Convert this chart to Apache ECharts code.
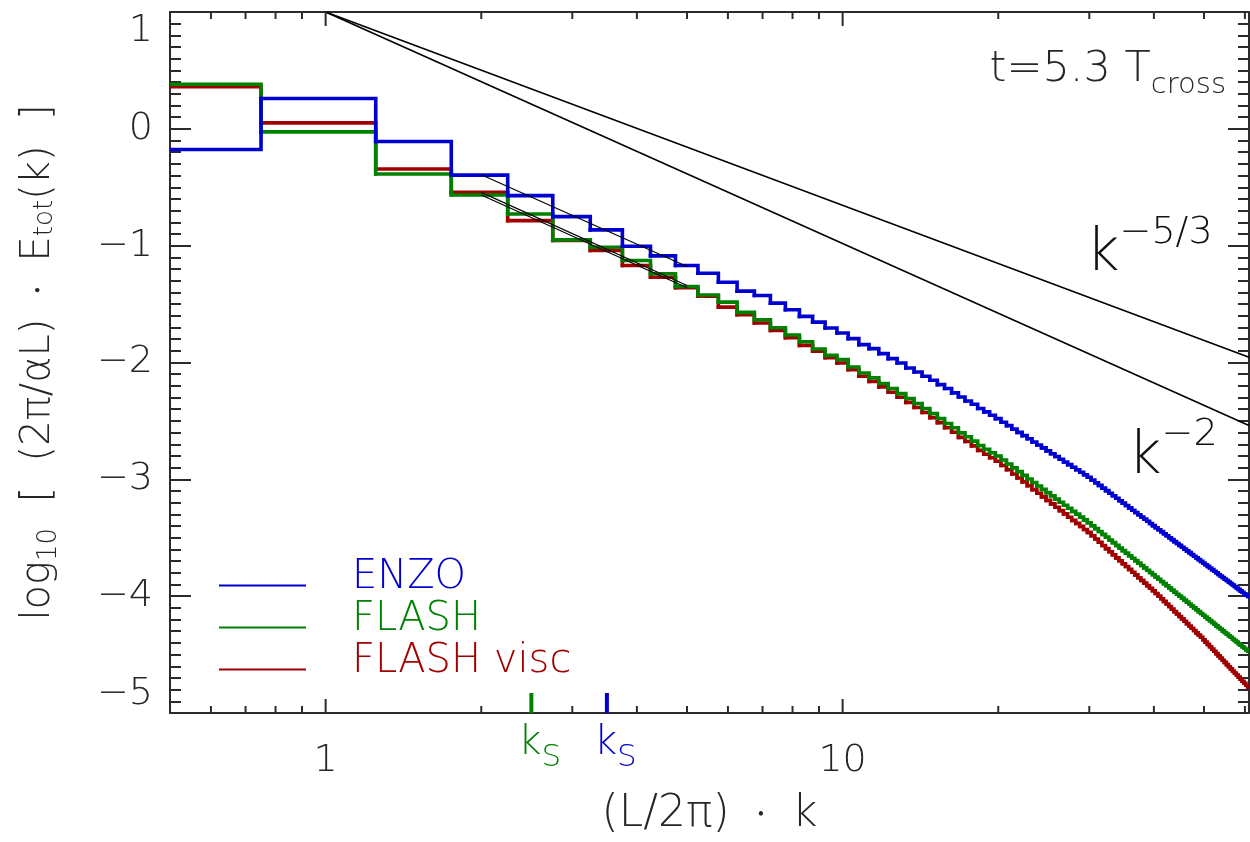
<!DOCTYPE html>
<html><head><meta charset="utf-8">
<script src="https://cdn.jsdelivr.net/npm/echarts@6.0.0/dist/echarts.min.js"></script>
<style>html,body{margin:0;padding:0;background:#fff}#c{width:1250px;height:842px}</style>
</head><body><div id="c"></div>
<script>
// ---- data ----
const kBins = [
  0.5, 1, 1.5, 2, 2.5, 3, 3.5, 4, 4.5, 5,
  5.5, 6, 6.5, 7, 7.5, 8, 8.5, 9, 9.5, 10,
  10.5, 11, 11.5, 12, 12.5, 13, 13.5, 14, 14.5, 15,
  15.5, 16, 16.5, 17, 17.5, 18, 18.5, 19, 19.5, 20,
  20.5, 21, 21.5, 22, 22.5, 23, 23.5, 24, 24.5, 25,
  25.5, 26, 26.5, 27, 27.5, 28, 28.5, 29, 29.5, 30,
  30.5, 31, 31.5, 32, 32.5, 33, 33.5, 34, 34.5, 35,
  35.5, 36, 36.5, 37, 37.5, 38, 38.5, 39, 39.5, 40,
  40.5, 41, 41.5, 42, 42.5, 43, 43.5, 44, 44.5, 45,
  45.5, 46, 46.5, 47, 47.5, 48, 48.5, 49, 49.5, 50,
  50.5, 51, 51.5, 52, 52.5, 53, 53.5, 54, 54.5, 55,
  55.5, 56, 56.5, 57, 57.5, 58, 58.5, 59, 59.5, 60,
  60.5, 61
];
const enzo = [
  -0.177, 0.259, -0.108, -0.396, -0.572, -0.751, -0.865, -1.005, -1.087, -1.170,
  -1.236, -1.313, -1.389, -1.426, -1.492, -1.548, -1.605, -1.654, -1.705, -1.748,
  -1.796, -1.847, -1.881, -1.924, -1.967, -2.004, -2.047, -2.081, -2.118, -2.152,
  -2.189, -2.223, -2.260, -2.295, -2.329, -2.357, -2.394, -2.423, -2.451, -2.480,
  -2.511, -2.540, -2.570, -2.598, -2.626, -2.653, -2.680, -2.706, -2.731, -2.756,
  -2.781, -2.805, -2.828, -2.852, -2.874, -2.897, -2.918, -2.940, -2.961, -2.982,
  -3.006, -3.029, -3.052, -3.075, -3.097, -3.119, -3.141, -3.162, -3.183, -3.204,
  -3.224, -3.244, -3.264, -3.284, -3.303, -3.322, -3.341, -3.359, -3.378, -3.396,
  -3.414, -3.431, -3.448, -3.466, -3.483, -3.500, -3.516, -3.533, -3.549, -3.565,
  -3.581, -3.597, -3.612, -3.627, -3.643, -3.658, -3.672, -3.687, -3.702, -3.717,
  -3.731, -3.745, -3.759, -3.773, -3.787, -3.800, -3.814, -3.827, -3.840, -3.854,
  -3.866, -3.879, -3.892, -3.905, -3.917, -3.930, -3.942, -3.955, -3.966, -3.979,
  -3.991, -4.002
];
const flash = [
  0.382, -0.026, -0.387, -0.566, -0.729, -0.950, -1.014, -1.127, -1.241, -1.349,
  -1.422, -1.483, -1.571, -1.634, -1.702, -1.765, -1.822, -1.885, -1.939, -1.975,
  -2.038, -2.090, -2.132, -2.180, -2.223, -2.266, -2.308, -2.351, -2.394, -2.437,
  -2.479, -2.522, -2.559, -2.602, -2.636, -2.673, -2.710, -2.742, -2.772, -2.800,
  -2.835, -2.869, -2.902, -2.934, -2.966, -2.997, -3.027, -3.057, -3.086, -3.114,
  -3.142, -3.169, -3.196, -3.222, -3.248, -3.274, -3.298, -3.323, -3.347, -3.371,
  -3.397, -3.422, -3.447, -3.471, -3.495, -3.519, -3.542, -3.565, -3.588, -3.610,
  -3.632, -3.654, -3.675, -3.696, -3.717, -3.738, -3.758, -3.778, -3.798, -3.817,
  -3.837, -3.855, -3.874, -3.893, -3.911, -3.929, -3.947, -3.965, -3.983, -4.000,
  -4.017, -4.034, -4.051, -4.067, -4.084, -4.100, -4.116, -4.132, -4.148, -4.163,
  -4.179, -4.194, -4.209, -4.224, -4.239, -4.254, -4.268, -4.282, -4.297, -4.311,
  -4.325, -4.339, -4.352, -4.366, -4.380, -4.393, -4.407, -4.420, -4.433, -4.446,
  -4.459, -4.471
];
const flashVisc = [
  0.361, 0.051, -0.344, -0.544, -0.786, -0.955, -1.042, -1.170, -1.270, -1.360,
  -1.432, -1.526, -1.591, -1.662, -1.725, -1.787, -1.853, -1.904, -1.958, -2.004,
  -2.061, -2.118, -2.163, -2.209, -2.254, -2.298, -2.341, -2.385, -2.428, -2.472,
  -2.515, -2.559, -2.597, -2.641, -2.676, -2.714, -2.752, -2.785, -2.815, -2.845,
  -2.882, -2.918, -2.954, -2.988, -3.022, -3.055, -3.088, -3.119, -3.150, -3.180,
  -3.210, -3.239, -3.268, -3.296, -3.324, -3.351, -3.377, -3.403, -3.429, -3.454,
  -3.483, -3.511, -3.539, -3.566, -3.593, -3.620, -3.646, -3.672, -3.697, -3.722,
  -3.746, -3.771, -3.795, -3.818, -3.842, -3.865, -3.888, -3.910, -3.932, -3.954,
  -3.977, -4.000, -4.022, -4.045, -4.067, -4.089, -4.111, -4.132, -4.153, -4.174,
  -4.194, -4.215, -4.235, -4.255, -4.275, -4.294, -4.314, -4.333, -4.352, -4.373,
  -4.393, -4.413, -4.433, -4.453, -4.472, -4.492, -4.511, -4.530, -4.548, -4.567,
  -4.586, -4.604, -4.622, -4.640, -4.658, -4.675, -4.693, -4.711, -4.728, -4.745,
  -4.762, -4.778
];
// thin fitted lines over the inertial range
const fitK = [2, 5];
const fitEnzo = [-0.393, -1.178];
const fitFlash = [-0.566, -1.360];
const fitVisc = [-0.544, -1.341];
// reference power laws (end points)
const refK = [1, 61.1];
const refMinus53 = [1, -1.955];
const refMinus2 = [1, -2.54];
// sonic wavenumbers
const ksValues = [2.5, 3.5];
// axis ticks
const xMajorTicks = [1, 10];
const xMinorTicks = [0.6, 0.7, 0.8, 0.9, 2, 3, 4, 5, 6, 7, 8, 9, 20, 30, 40, 50, 60];
const seriesNames = ['ENZO', 'FLASH', 'FLASH visc'];

// ---- styling ----
const FONT = 'DejaVu Sans';
const FW = 200;
const TXT = '#262626';
const AXIS = '#2b2b2b';
const BLUE = '#0000d0', GREEN = '#008000', RED = '#a00000';
const ksColors = [GREEN, BLUE];
const X_MIN = 0.5, X_MAX = 61.1, Y_MIN = -5, Y_MAX = 1;
const STEP_WIDTH = 3.6;

// one record per bin: [left edge, value, right edge, next bin's value]
function stepRecords(k, v) {
  const out = [];
  for (let i = 0; i < k.length; i++) {
    const left = i === 0 ? k[0] - (k[1] - k[0]) / 2 : (k[i - 1] + k[i]) / 2;
    const right = i === k.length - 1 ? k[i] + (k[i] - k[i - 1]) / 2 : (k[i] + k[i + 1]) / 2;
    const next = i === k.length - 1 ? v[i] : v[i + 1];
    out.push([left, v[i], right, next]);
  }
  return out;
}
const pairs = (xs, ys) => xs.map((x, i) => [x, ys[i]]);

function stepSeries(name, vals, color, z) {
  return {
    type: 'custom', name, data: stepRecords(kBins, vals), clip: true, z, silent: true,
    encode: { x: [0, 2], y: [1, 3] },
    itemStyle: { color },
    renderItem: (params, api) => {
      const a = api.coord([api.value(0), api.value(1)]);
      const b = api.coord([api.value(2), api.value(1)]);
      const c = api.coord([api.value(2), api.value(3)]);
      return {
        type: 'polyline',
        shape: { points: [a, b, c] },
        style: { stroke: color, lineWidth: STEP_WIDTH, fill: null, lineJoin: 'miter', lineCap: 'square' }
      };
    }
  };
}
function thinLine(name, xs, ys, width) {
  return {
    type: 'line', name, data: pairs(xs, ys), symbol: 'none', showSymbol: false,
    lineStyle: { color: '#000', width }, clip: true, z: 6, silent: true
  };
}

const axisLineStyle = { color: AXIS, width: 2 };
const yLabelFmt = v => (v < 0 ? '\u2212' + (-v) : String(v));
// legend key: thin line sitting low in its box (tiny invisible dot keeps the box height)
const legendIcon = 'path://M0,0L0.01,0L0.01,0.01Z M0,15L87,15L87,17L0,17Z';

const chart = echarts.init(document.getElementById('c'), null, { renderer: 'canvas' });
const option = {
  animation: false,
  backgroundColor: '#fff',
  grid: { left: 170, top: 12, width: 1079, height: 702, containLabel: false },
  legend: {
    data: [
      { name: seriesNames[0], textStyle: { color: BLUE } },
      { name: seriesNames[1], textStyle: { color: GREEN } },
      { name: seriesNames[2], textStyle: { color: RED } }
    ],
    orient: 'vertical', left: 214, top: 552, itemWidth: 87, itemHeight: 20, itemGap: 0,
    icon: legendIcon, selectedMode: false,
    textStyle: { fontSize: 40, fontFamily: FONT, fontWeight: FW, lineHeight: 42, padding: [0, 0, 0, 41] }
  },
  xAxis: [
    {
      type: 'log', logBase: 10, min: X_MIN, max: X_MAX, position: 'bottom',
      axisLine: { show: true, onZero: false, lineStyle: axisLineStyle },
      axisTick: { show: false }, minorTick: { show: false }, splitLine: { show: false },
      axisLabel: {
        show: true, showMinLabel: false, showMaxLabel: false, margin: 29,
        fontSize: 38, fontFamily: FONT, fontWeight: FW, color: TXT,
        formatter: v => { const t = xMajorTicks.find(m => Math.abs(m - v) < 1e-6 * m); return t ? String(t) : ''; }
      },
      name: '{m|(L/2\u03c0)}{m|  }{d|\u2022}{m|  k}', nameLocation: 'middle', nameGap: 80,
      nameTextStyle: {
        color: TXT, fontSize: 44, fontFamily: FONT, fontWeight: FW,
        rich: { m: { fontSize: 44, fontFamily: FONT, fontWeight: FW, color: TXT }, d: { fontSize: 18, fontFamily: FONT, color: TXT } }
      }
    },
    {
      type: 'log', logBase: 10, min: X_MIN, max: X_MAX, position: 'top',
      axisLine: { show: true, onZero: false, lineStyle: axisLineStyle },
      axisTick: { show: false }, axisLabel: { show: false }, splitLine: { show: false }
    }
  ],
  yAxis: [
    {
      type: 'value', min: Y_MIN, max: Y_MAX, interval: 1, position: 'left',
      axisLine: { show: true, onZero: false, lineStyle: axisLineStyle },
      axisTick: { show: true, inside: true, length: 21, lineStyle: axisLineStyle },
      minorTick: { show: true, splitNumber: 10, length: 11, lineStyle: axisLineStyle },
      splitLine: { show: false }, minorSplitLine: { show: false },
      axisLabel: {
        margin: 17, fontSize: 38, fontFamily: FONT, fontWeight: FW, color: TXT,
        formatter: yLabelFmt, verticalAlignMaxLabel: 'top', verticalAlignMinLabel: 'bottom'
      },
      name: '{m|log}{s|10}{m|  [  (2\u03c0/\u03b1L)  }{d|\u2022}{m|  E}{t|tot}{m|(k)  ]}',
      nameLocation: 'middle', nameRotate: 90, nameGap: 108,
      nameTextStyle: {
        color: TXT, fontSize: 40, fontFamily: FONT, fontWeight: FW,
        rich: {
          m: { fontSize: 40, fontFamily: FONT, fontWeight: FW, color: TXT },
          s: { fontSize: 26, fontFamily: FONT, fontWeight: FW, color: TXT, padding: [20, 0, 0, 0] },
          t: { fontSize: 26, fontFamily: FONT, fontWeight: FW, color: TXT, padding: [12, 0, 0, 0] },
          d: { fontSize: 18, fontFamily: FONT, color: TXT }
        }
      }
    },
    {
      type: 'value', min: Y_MIN, max: Y_MAX, interval: 1, position: 'right',
      axisLine: { show: true, onZero: false, lineStyle: axisLineStyle },
      axisTick: { show: true, inside: true, length: 21, lineStyle: axisLineStyle },
      minorTick: { show: true, splitNumber: 10, length: 11, lineStyle: axisLineStyle },
      splitLine: { show: false }, axisLabel: { show: false }
    }
  ],
  series: [
    stepSeries(seriesNames[2], flashVisc, RED, 3),
    stepSeries(seriesNames[1], flash, GREEN, 4),
    stepSeries(seriesNames[0], enzo, BLUE, 5),
    thinLine('fit ENZO', fitK, fitEnzo, 1.2),
    thinLine('fit FLASH', fitK, fitFlash, 1.2),
    thinLine('fit FLASH visc', fitK, fitVisc, 1.2),
    thinLine('k^-5/3', refK, refMinus53, 1.6),
    thinLine('k^-2', refK, refMinus2, 1.6),
    {
      type: 'custom', name: 'x ticks', silent: true, clip: false, z: 7,
      data: xMajorTicks.map(v => [v, Y_MIN, 1]).concat(xMinorTicks.map(v => [v, Y_MIN, 0])),
      renderItem: (params, api) => {
        const v = api.value(0);
        const len = api.value(2) === 1 ? 14 : 7;
        const pb = api.coord([v, Y_MIN]);
        const pt = api.coord([v, Y_MAX]);
        return {
          type: 'group', children: [
            { type: 'line', shape: { x1: pb[0], y1: pb[1], x2: pb[0], y2: pb[1] - len }, style: { stroke: AXIS, lineWidth: 2 } },
            { type: 'line', shape: { x1: pt[0], y1: pt[1], x2: pt[0], y2: pt[1] + len }, style: { stroke: AXIS, lineWidth: 2 } }
          ]
        };
      }
    },
    {
      type: 'custom', name: 'k_S', silent: true, clip: false, z: 8,
      data: ksValues.map((v, i) => [v, Y_MIN, i]),
      renderItem: (params, api) => {
        const p = api.coord([api.value(0), api.value(1)]);
        const color = ksColors[api.value(2)];
        return {
          type: 'group', children: [
            { type: 'line', shape: { x1: p[0], y1: p[1], x2: p[0], y2: p[1] - 20 }, style: { stroke: color, lineWidth: 4 } },
            {
              type: 'text', x: p[0] - 13, y: p[1] + 31,
              style: {
                text: '{a|k}{b|S}', align: 'left', verticalAlign: 'middle', fill: color,
                rich: {
                  a: { fontSize: 40, fontFamily: FONT, fontWeight: FW, fill: color },
                  b: { fontSize: 31, fontFamily: FONT, fontWeight: FW, fill: color, padding: [27, 0, 0, 0] }
                }
              }
            }
          ]
        };
      }
    }
  ],
  graphic: [
    {
      type: 'text', x: 1226, y: 70, silent: true,
      style: {
        text: '{m|t=5.3 T}{s|cross}', align: 'right', verticalAlign: 'middle', fill: TXT,
        rich: {
          m: { fontSize: 43, fontFamily: FONT, fontWeight: FW, fill: TXT },
          s: { fontSize: 29, fontFamily: FONT, fontWeight: FW, fill: TXT, padding: [31, 0, 0, 0] }
        }
      }
    },
    {
      type: 'text', x: 1086, y: 255, silent: true,
      style: {
        text: '{k|k}{p|\u22125/3}', align: 'left', verticalAlign: 'middle', fill: '#111',
        rich: {
          k: { fontSize: 58, fontFamily: FONT, fontWeight: FW, fill: '#111' },
          p: { fontSize: 38, fontFamily: FONT, fontWeight: FW, fill: '#111', padding: [0, 0, 44, 0] }
        }
      }
    },
    {
      type: 'text', x: 1128, y: 458, silent: true,
      style: {
        text: '{k|k}{p|\u22122}', align: 'left', verticalAlign: 'middle', fill: '#111',
        rich: {
          k: { fontSize: 58, fontFamily: FONT, fontWeight: FW, fill: '#111' },
          p: { fontSize: 38, fontFamily: FONT, fontWeight: FW, fill: '#111', padding: [0, 0, 46, 0] }
        }
      }
    }
  ]
};
chart.setOption(option);
</script>
</body></html>
